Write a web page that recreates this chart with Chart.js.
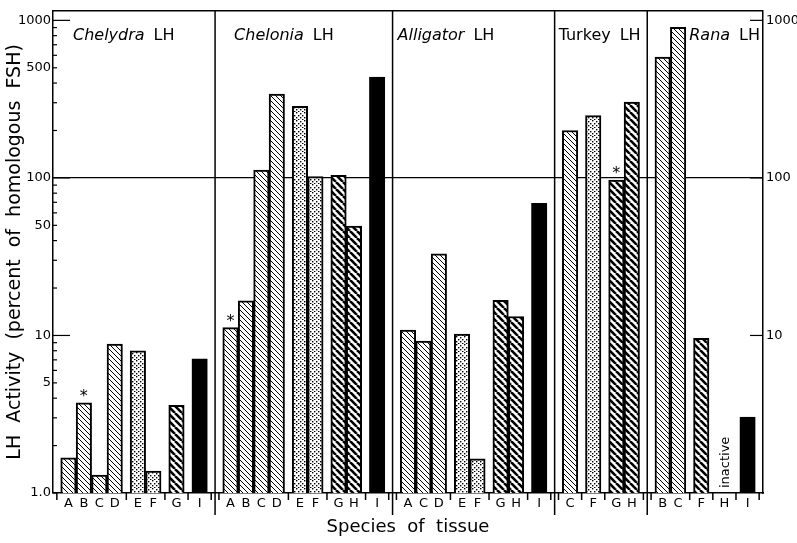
<!DOCTYPE html>
<html>
<head>
<meta charset="utf-8">
<script src="https://cdn.jsdelivr.net/npm/chart.js@4.4.1/dist/chart.umd.min.js"></script>
<style>
  body { margin: 0; background: #fff; }
</style>
</head>
<body>
<canvas id="lhChart" width="797" height="543"></canvas>
<script>
// species (one panel each) and the tissues tested against each LH
const species = ['Chelydra', 'Chelonia', 'Alligator', 'Turkey', 'Rana'];
const speciesItalic = [true, true, true, false, true];
const tissues = [
  ['A', 'B', 'C', 'D', 'E', 'F', 'G', 'I'],
  ['A', 'B', 'C', 'D', 'E', 'F', 'G', 'H', 'I'],
  ['A', 'C', 'D', 'E', 'F', 'G', 'H', 'I'],
  ['C', 'F', 'G', 'H'],
  ['B', 'C', 'F', 'H', 'I']
];
// LH activity, percent of homologous FSH (null = inactive)
const activity = [
  [1.67, 3.73, 1.30, 8.8, 8.0, 1.38, 3.6, 7.1],
  [11.2, 16.6, 112, 340, 285, 102, 104, 49.5, 437],
  [10.8, 9.2, 33, 10.2, 1.65, 16.7, 13.2, 69],
  [200, 249, 97, 303],
  [584, 902, 9.6, null, 3.03]
];
// how many bars sit together between the axis ticks
const groups = [[4, 2, 1, 1], [4, 2, 2, 1], [3, 2, 2, 1], [1, 1, 2], [2, 1, 1, 1]];
const starred = [['B'], ['A'], [], ['G'], []];

const leftTickValues = [1, 2, 3, 4, 5, 6, 7, 8, 9, 10, 20, 30, 40, 50, 60, 70, 80, 90,
  100, 200, 300, 400, 500, 600, 700, 800, 900, 1000];
const leftLabelValues = [1, 5, 10, 50, 100, 500, 1000];
const leftLabels = ['1.0', '5', '10', '50', '100', '500', '1000'];
const rightLabelValues = [10, 100, 1000];
const rightLabels = ['10', '100', '1000'];

// bar fills (style), per panel
const barFill = [
  ['thin', 'thin', 'thin', 'thin', 'dots', 'dots', 'bold', 'solid'],
  ['thin', 'thin', 'thin', 'thin', 'dots', 'dots', 'bold', 'bold', 'solid'],
  ['thin', 'thin', 'thin', 'dots', 'dots', 'bold', 'bold', 'solid'],
  ['thin', 'dots', 'bold', 'bold'],
  ['thin', 'thin', 'bold', 'solid', 'solid']
];
const titleOffset = [20, 19, 5, 4, 42];

Chart.defaults.font.family = "'DejaVu Sans', sans-serif";
Chart.defaults.color = '#000';

function hatch(step, width) {
  const c = document.createElement('canvas');
  c.width = step; c.height = step;
  const g = c.getContext('2d');
  g.fillStyle = '#fff';
  g.fillRect(0, 0, step, step);
  g.strokeStyle = '#000';
  g.lineWidth = width;
  for (let k = -1; k <= 1; k++) {
    g.beginPath();
    g.moveTo(k * step, 0);
    g.lineTo(k * step + step, step);
    g.stroke();
  }
  return g.createPattern(c, 'repeat');
}
function stipple() {
  const c = document.createElement('canvas');
  c.width = 8; c.height = 8;
  const g = c.getContext('2d');
  g.fillStyle = '#fff';
  g.fillRect(0, 0, 8, 8);
  g.fillStyle = '#000';
  [[0, 0], [4, 1], [2, 3], [6, 3], [0, 5], [4, 5], [2, 7], [6, 7]].forEach(p => g.fillRect(p[0], p[1], 1.4, 1.4));
  return g.createPattern(c, 'repeat');
}
const fills = { thin: hatch(5, 1), bold: hatch(7, 2.6), dots: stipple(), solid: '#000' };

// lay bars out on a unit x axis: bar = 1, gap between groups = 0.5
const points = [], letters = [], colors = [], gapTicks = [], edges = [0], stars = [], inactive = [];
let cursor = 0;
species.forEach((sp, p) => {
  let i = 0;
  groups[p].forEach(n => {
    gapTicks.push(cursor + 0.25);
    cursor += 0.5;
    for (let k = 0; k < n; k++, i++) {
      const x = cursor + 0.5;
      points.push({ x: x, y: activity[p][i] });
      letters.push(tissues[p][i]);
      colors.push(fills[barFill[p][i]]);
      if (starred[p].includes(tissues[p][i])) stars.push(points.length - 1);
      if (activity[p][i] === null) inactive.push(x);
      cursor += 1;
    }
  });
  gapTicks.push(cursor + 0.25);
  cursor += 0.5;
  edges.push(cursor);
});
const totalUnits = cursor;

const decor = {
  id: 'decor',
  afterDatasetsDraw(chart) {
    const c = chart.ctx, a = chart.chartArea;
    const xs = chart.scales.x, ys = chart.scales.y;
    c.save();
    c.strokeStyle = '#000';
    c.lineWidth = 1.5;
    // top frame
    c.beginPath(); c.moveTo(a.left, a.top); c.lineTo(a.right, a.top); c.stroke();
    // panel dividers
    edges.slice(1, -1).forEach(e => {
      const px = xs.getPixelForValue(e);
      c.beginPath(); c.moveTo(px, a.top); c.lineTo(px, a.bottom + 22); c.stroke();
    });
    // ticks between tissue groups
    gapTicks.forEach(t => {
      const px = xs.getPixelForValue(t);
      c.beginPath(); c.moveTo(px, a.bottom); c.lineTo(px, a.bottom + 7); c.stroke();
    });
    // inward ticks on the left axis
    c.lineWidth = 1.2;
    leftTickValues.forEach(v => {
      const py = ys.getPixelForValue(v);
      const len = (v === 10 || v === 100 || v === 1000) ? 17 : 4;
      c.beginPath(); c.moveTo(a.left, py); c.lineTo(a.left + len, py); c.stroke();
    });
    // inward ticks on the right axis
    rightLabelValues.forEach(v => {
      const py = ys.getPixelForValue(v);
      c.beginPath(); c.moveTo(a.right - 13, py); c.lineTo(a.right, py); c.stroke();
    });
    // panel titles
    c.fillStyle = '#000';
    c.textBaseline = 'alphabetic';
    species.forEach((sp, p) => {
      let x = xs.getPixelForValue(edges[p]) + titleOffset[p];
      c.font = (speciesItalic[p] ? 'italic ' : '') + "16px 'DejaVu Sans'";
      c.fillText(sp, x, 40);
      x += c.measureText(sp).width + 9;
      c.font = "16px 'DejaVu Sans'";
      c.fillText('LH', x, 40);
    });
    // asterisks
    const meta = chart.getDatasetMeta(0);
    c.font = "16px 'DejaVu Sans'";
    c.textAlign = 'center';
    stars.forEach(i => {
      const bar = meta.data[i];
      c.fillText('*', bar.x, bar.y - 2);
    });
    // inactive
    c.font = "13px 'DejaVu Sans'";
    inactive.forEach(x => {
      c.save();
      c.translate(xs.getPixelForValue(x) + 1, a.bottom - 5);
      c.rotate(-Math.PI / 2);
      c.textAlign = 'left';
      c.textBaseline = 'middle';
      c.fillText('inactive', 0, 0);
      c.restore();
    });
    c.restore();
  }
};

new Chart(document.getElementById('lhChart'), {
  type: 'bar',
  data: {
    datasets: [{
      data: points,
      backgroundColor: colors,
      borderColor: '#000',
      borderWidth: 2,
      borderSkipped: 'start',
      categoryPercentage: 1,
      barPercentage: 1
    }]
  },
  options: {
    responsive: false,
    animation: false,
    layout: { padding: { top: 7 } },
    plugins: { legend: { display: false }, tooltip: { enabled: false } },
    scales: {
      x: {
        type: 'linear',
        offset: false,
        min: 0,
        max: totalUnits,
        afterBuildTicks: s => { s.ticks = points.map(pt => ({ value: pt.x })); },
        ticks: {
          autoSkip: false,
          maxRotation: 0,
          padding: 3,
          font: { size: 13 },
          callback: (v, i) => letters[i]
        },
        grid: { display: false, drawTicks: false },
        border: { display: true, color: '#000', width: 1.5 },
        title: {
          display: true,
          text: 'Species  of  tissue',
          font: { size: 18 },
          padding: { top: 0, bottom: 5 }
        },
        afterFit: s => { s.height = 50; }
      },
      y: {
        type: 'logarithmic',
        position: 'left',
        min: 1,
        max: 1150,
        afterBuildTicks: s => { s.ticks = leftTickValues.map(v => ({ value: v })); },
        ticks: {
          autoSkip: false,
          padding: 2,
          font: { size: 13 },
          callback: v => {
            const k = leftLabelValues.indexOf(v);
            return k < 0 ? '' : leftLabels[k];
          }
        },
        grid: {
          drawTicks: false,
          lineWidth: 1.2,
          color: ctx => (ctx.tick && ctx.tick.value === 100) ? '#000' : 'rgba(0,0,0,0)'
        },
        border: { display: true, color: '#000', width: 1.5 },
        title: {
          display: true,
          text: 'LH  Activity  (percent  of  homologous  FSH)',
          font: { size: 19 },
          padding: { top: 4, bottom: 0 }
        },
        afterFit: s => { s.width = 53; }
      },
      y2: {
        type: 'logarithmic',
        position: 'right',
        min: 1,
        max: 1150,
        afterBuildTicks: s => { s.ticks = rightLabelValues.map(v => ({ value: v })); },
        ticks: {
          autoSkip: false,
          padding: 3,
          font: { size: 13 },
          callback: v => {
            const k = rightLabelValues.indexOf(v);
            return k < 0 ? '' : rightLabels[k];
          }
        },
        grid: { drawOnChartArea: false, drawTicks: false },
        border: { display: true, color: '#000', width: 1.5 },
        afterFit: s => { s.width = 34; }
      }
    }
  },
  plugins: [decor]
});
</script>
</body>
</html>
